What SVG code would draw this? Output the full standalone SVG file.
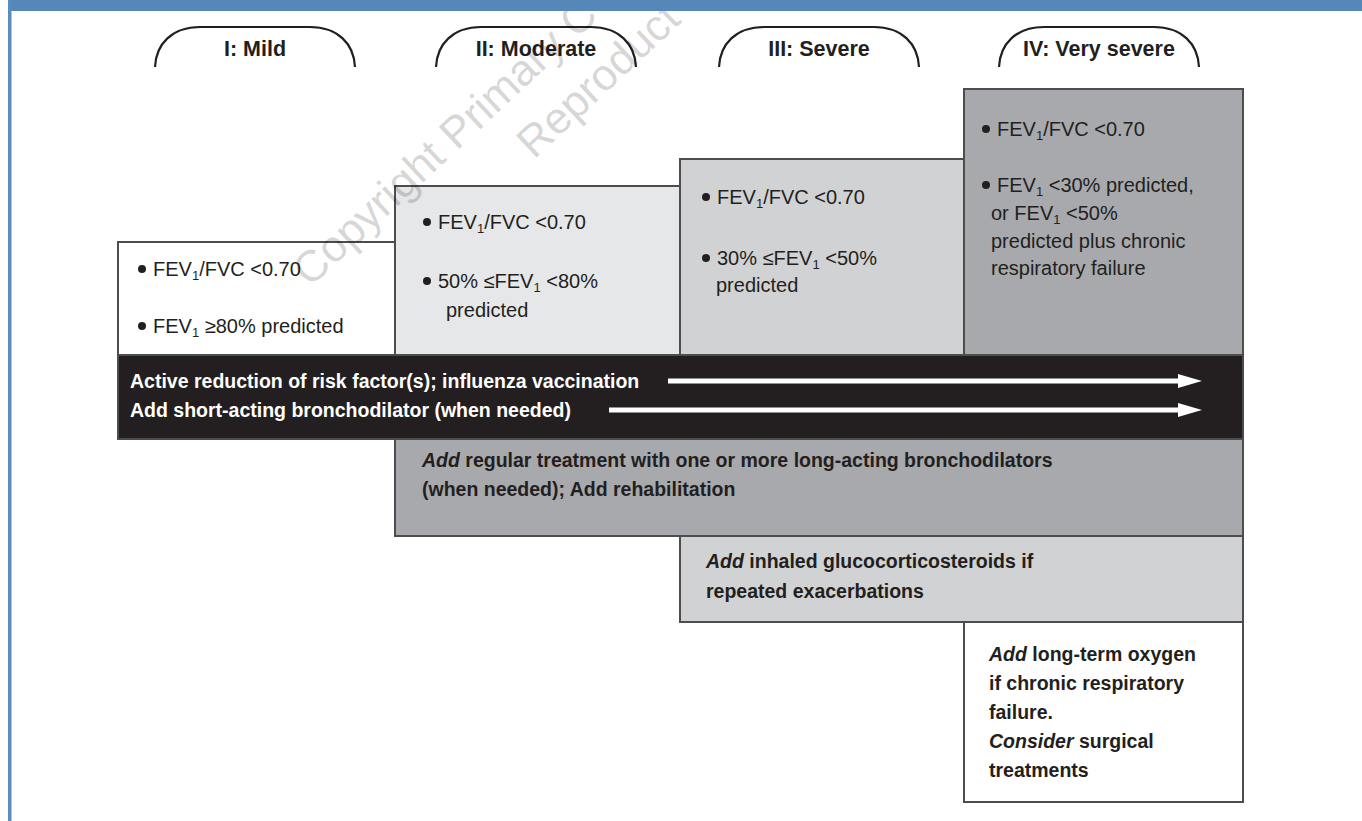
<svg xmlns="http://www.w3.org/2000/svg" width="1362" height="821" viewBox="0 0 1362 821">
<style>
.box{stroke:#4d4d4f;stroke-width:2}
.t{font-family:"Liberation Sans",Arial,sans-serif;font-size:20px;fill:#231f20}
.b{font-family:"Liberation Sans",Arial,sans-serif;font-size:19.5px;font-weight:bold;fill:#231f20}
.w{fill:#ffffff}
.tab{font-family:"Liberation Sans",Arial,sans-serif;font-size:21.5px;font-weight:bold;fill:#231f20;text-anchor:middle}
.sub{font-size:13px}
.i{font-style:italic}
.dot{fill:#231f20}
.tabline{fill:none;stroke:#231f20;stroke-width:2.2}
.arr{stroke:#ffffff;stroke-width:5;fill:none}
.wm{font-family:"Liberation Sans",Arial,sans-serif;font-size:44px;fill:#000;fill-opacity:0.18}
</style>
<defs>
<path id="tabshape" d="M0,67 C1,44 17,27 45,27 H155 C183,27 199,44 200,67"/>
<marker id="ah" markerUnits="userSpaceOnUse" markerWidth="24" markerHeight="14" refX="7" refY="7" orient="auto">
<path d="M0,0 L24,7 L0,14 Z" fill="#ffffff"/>
</marker>
</defs>
<rect x="0" y="0" width="1362" height="821" fill="#ffffff"/>

<g id="tab-mild">
<use href="#tabshape" class="tabline" transform="translate(155,0)"/>
<text class="tab" x="255" y="56">I: Mild</text>
</g>
<g id="tab-moderate">
<use href="#tabshape" class="tabline" transform="translate(436,0)"/>
<text class="tab" x="536" y="56">II: Moderate</text>
</g>
<g id="tab-severe">
<use href="#tabshape" class="tabline" transform="translate(719,0)"/>
<text class="tab" x="819" y="56">III: Severe</text>
</g>
<g id="tab-verysevere">
<use href="#tabshape" class="tabline" transform="translate(999,0)"/>
<text class="tab" x="1099" y="56">IV: Very severe</text>
</g>

<g id="box-mild">
<rect class="box" x="118" y="242" width="277" height="113" fill="#ffffff"/>
<circle class="dot" cx="142" cy="269" r="4"/>
<text class="t" x="153" y="276">FEV<tspan class="sub" dy="4">1</tspan><tspan dy="-4">/FVC &lt;0.70</tspan></text>
<circle class="dot" cx="142" cy="326" r="4"/>
<text class="t" x="153" y="333">FEV<tspan class="sub" dy="4">1</tspan><tspan dy="-4"> ≥80% predicted</tspan></text>
</g>

<g id="box-moderate">
<rect class="box" x="395" y="186" width="285" height="169" fill="#e6e7e8"/>
<circle class="dot" cx="427" cy="222" r="4"/>
<text class="t" x="438" y="229">FEV<tspan class="sub" dy="4">1</tspan><tspan dy="-4">/FVC &lt;0.70</tspan></text>
<circle class="dot" cx="427" cy="281" r="4"/>
<text class="t" x="438" y="288">50% ≤FEV<tspan class="sub" dy="4">1</tspan><tspan dy="-4"> &lt;80%</tspan></text>
<text class="t" x="446" y="317">predicted</text>
</g>

<g id="box-severe">
<rect class="box" x="680" y="159" width="284" height="196" fill="#d1d2d4"/>
<circle class="dot" cx="706" cy="197" r="4"/>
<text class="t" x="717" y="204">FEV<tspan class="sub" dy="4">1</tspan><tspan dy="-4">/FVC &lt;0.70</tspan></text>
<circle class="dot" cx="706" cy="258" r="4"/>
<text class="t" x="717" y="265">30% ≤FEV<tspan class="sub" dy="4">1</tspan><tspan dy="-4"> &lt;50%</tspan></text>
<text class="t" x="716" y="292">predicted</text>
</g>

<g id="box-verysevere">
<rect class="box" x="964" y="89" width="279" height="266" fill="#a7a9ac"/>
<circle class="dot" cx="986" cy="129" r="4"/>
<text class="t" x="997" y="136">FEV<tspan class="sub" dy="4">1</tspan><tspan dy="-4">/FVC &lt;0.70</tspan></text>
<circle class="dot" cx="986" cy="185" r="4"/>
<text class="t" x="997" y="192">FEV<tspan class="sub" dy="4">1</tspan><tspan dy="-4"> &lt;30% predicted,</tspan></text>
<text class="t" x="991" y="220">or FEV<tspan class="sub" dy="4">1</tspan><tspan dy="-4"> &lt;50%</tspan></text>
<text class="t" x="991" y="248">predicted plus chronic</text>
<text class="t" x="991" y="275">respiratory failure</text>
</g>

<g id="band-all">
<rect class="box" x="118" y="355" width="1125" height="84" fill="#231f20"/>
<text class="b w" x="130" y="388">Active reduction of risk factor(s); influenza vaccination</text>
<text class="b w" x="130" y="417">Add short-acting bronchodilator (when needed)</text>
</g>

<g id="box-longacting">
<rect class="box" x="395" y="439" width="848" height="97" fill="#a7a9ac"/>
<text class="b" x="422" y="467"><tspan class="i">Add</tspan> regular treatment with one or more long-acting bronchodilators</text>
<text class="b" x="422" y="496">(when needed); Add rehabilitation</text>
</g>

<g id="box-steroids">
<rect class="box" x="680" y="536" width="563" height="86" fill="#d1d2d4"/>
<text class="b" x="706" y="568"><tspan class="i">Add</tspan> inhaled glucocorticosteroids if</text>
<text class="b" x="706" y="598">repeated exacerbations</text>
</g>

<g id="box-oxygen">
<rect class="box" x="964" y="622" width="279" height="180" fill="#ffffff"/>
<text class="b" x="989" y="661"><tspan class="i">Add</tspan> long-term oxygen</text>
<text class="b" x="989" y="690">if chronic respiratory</text>
<text class="b" x="989" y="719">failure.</text>
<text class="b" x="989" y="748"><tspan class="i">Consider</tspan> surgical</text>
<text class="b" x="989" y="777">treatments</text>
</g>

<g id="connectors">
<line class="arr" x1="668" y1="381" x2="1185" y2="381" marker-end="url(#ah)"/>
<line class="arr" x1="609" y1="410" x2="1185" y2="410" marker-end="url(#ah)"/>
</g>

<g id="watermark">
<text class="wm" transform="translate(310,288) rotate(-43)">Copyright Primary C</text>
<text class="wm" transform="translate(534,160) rotate(-43)">Reproduct</text>
</g>

<g id="frame">
<rect x="8" y="0" width="1354" height="11" fill="#5588b8"/>
<rect x="8" y="0" width="3.5" height="821" fill="#5b8cbd"/>
</g>
</svg>
